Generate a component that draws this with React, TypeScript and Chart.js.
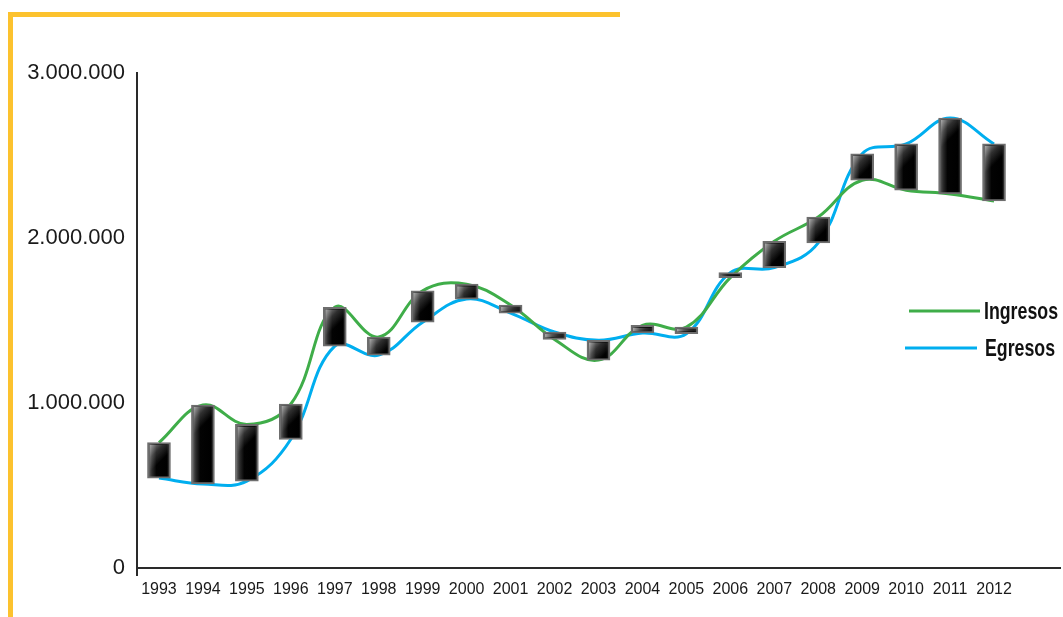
import React, { useEffect, useRef } from 'react';
import { Chart, registerables } from 'chart.js';

Chart.register(...registerables);

const years = ['1993', '1994', '1995', '1996', '1997', '1998', '1999', '2000', '2001', '2002', '2003', '2004', '2005', '2006', '2007', '2008', '2009', '2010', '2011', '2012'];
const ingresos = [760000, 988000, 870000, 994000, 1580000, 1400000, 1680000, 1720000, 1594000, 1385000, 1260000, 1470000, 1460000, 1760000, 1980000, 2127000, 2350000, 2290000, 2267000, 2224000];
const egresos = [545000, 509000, 527000, 780000, 1345000, 1290000, 1490000, 1630000, 1545000, 1430000, 1380000, 1424000, 1420000, 1790000, 1820000, 1970000, 2510000, 2570000, 2727000, 2570000];
const yTickValues = [0, 1000000, 2000000, 3000000];
const legendLabels = ['Ingresos', 'Egresos'];

const GREEN = '#3fad49';
const BLUE = '#00aeef';
const YELLOW = '#fcc22e';
const FONT = '"Liberation Sans", Arial, Helvetica, sans-serif';

const fmt = (v: number) => String(Math.round(v)).replace(/\B(?=(\d{3})+(?!\d))/g, '.');

const decorPlugin = {
  id: 'decor',
  afterDraw(chart: any) {
    const { ctx, chartArea } = chart;
    ctx.save();
    // extend axes
    ctx.strokeStyle = '#2a2a2a';
    ctx.lineWidth = 2;
    ctx.beginPath();
    ctx.moveTo(chartArea.right - 1, chartArea.bottom);
    ctx.lineTo(1061, chartArea.bottom);
    ctx.moveTo(chartArea.left, chartArea.bottom);
    ctx.lineTo(chartArea.left, chartArea.bottom + 8);
    ctx.stroke();

    // legend
    const items = [
      { label: legendLabels[0], color: GREEN, x0: 909, x1: 980, y: 311, tx: 984 },
      { label: legendLabels[1], color: BLUE, x0: 905, x1: 977, y: 348, tx: 985 },
    ];
    ctx.font = 'bold 24px "Liberation Sans", Arial, sans-serif';
    ctx.textBaseline = 'middle';
    ctx.textAlign = 'left';
    const sx = 74 / ctx.measureText(legendLabels[0]).width;
    items.forEach((it) => {
      ctx.strokeStyle = it.color;
      ctx.lineWidth = 3;
      ctx.beginPath();
      ctx.moveTo(it.x0, it.y);
      ctx.lineTo(it.x1, it.y);
      ctx.stroke();
      ctx.save();
      ctx.translate(it.tx, it.y + 1);
      ctx.scale(sx, 1);
      ctx.fillStyle = '#111';
      ctx.fillText(it.label, 0, 0);
      ctx.restore();
    });
    ctx.restore();
  },
  afterDatasetsDraw(chart: any) {
    const { ctx } = chart;
    const meta = chart.getDatasetMeta(0);
    ctx.save();
    meta.data.forEach((el: any) => {
      const w = el.width;
      const left = el.x - w / 2 + 2;
      const top = Math.min(el.y, el.base) + 2;
      const h = Math.abs(el.base - el.y) - 4;
      const iw = w - 4;
      if (h <= 0) return;
      ctx.save();
      ctx.beginPath();
      ctx.rect(left, top, iw, h);
      ctx.clip();
      const g = ctx.createLinearGradient(left, top, left + 14, top + 14);
      g.addColorStop(0, 'rgba(255,255,255,0.55)');
      g.addColorStop(0.5, 'rgba(255,255,255,0.18)');
      g.addColorStop(1, 'rgba(255,255,255,0)');
      ctx.fillStyle = g;
      ctx.fillRect(left, top, iw, h);
      ctx.restore();
    });
    ctx.restore();
  },
};

export default function App() {
  const ref = useRef<HTMLCanvasElement | null>(null);

  useEffect(() => {
    if (!ref.current) return;
    const bars = years.map((_, i) => [Math.min(ingresos[i], egresos[i]), Math.max(ingresos[i], egresos[i])]);
    const chart = new Chart(ref.current, {
      type: 'bar',
      data: {
        labels: years,
        datasets: [
          {
            type: 'bar',
            label: 'Diferencia',
            data: bars as any,
            order: 0,
            barThickness: 23,
            borderWidth: 2,
            borderColor: '#6e6e6e',
            borderSkipped: false,
            backgroundColor: (c: any) => {
              const chart = c.chart;
              const sx = chart.scales && chart.scales.x;
              if (c.type !== 'data' || !sx) return '#000';
              const x = sx.getPixelForValue(c.dataIndex);
              if (!isFinite(x)) return '#000';
              const g = chart.ctx.createLinearGradient(x - 11, 0, x + 11, 0);
              g.addColorStop(0, '#6a6a6a');
              g.addColorStop(0.18, '#2c2c2c');
              g.addColorStop(0.38, '#030303');
              g.addColorStop(0.85, '#000000');
              g.addColorStop(1, '#2a2a2a');
              return g;
            },
          } as any,
          {
            type: 'line',
            label: legendLabels[0],
            data: ingresos,
            order: 1,
            borderColor: GREEN,
            borderWidth: 3,
            pointRadius: 0,
            tension: 0.4,
            fill: false,
          } as any,
          {
            type: 'line',
            label: legendLabels[1],
            data: egresos,
            order: 2,
            borderColor: BLUE,
            borderWidth: 3,
            pointRadius: 0,
            tension: 0.4,
            fill: false,
          } as any,
        ],
      },
      options: {
        responsive: false,
        animation: false,
        devicePixelRatio: 1,
        layout: { padding: { top: 73, right: 47, left: 0, bottom: 0 } },
        plugins: { legend: { display: false }, tooltip: { enabled: false } },
        scales: {
          x: {
            type: 'category',
            offset: true,
            grid: { display: false, drawTicks: false },
            border: { display: true, color: '#2a2a2a', width: 2 },
            ticks: {
              autoSkip: false,
              maxRotation: 0,
              padding: 12,
              color: '#1a1a1a',
              font: { family: FONT, size: 16 },
            },
            afterFit: (s: any) => {
              s.height = 49;
            },
          },
          y: {
            min: 0,
            max: 3000000,
            grid: { display: false, drawTicks: false },
            border: { display: true, color: '#2a2a2a', width: 2 },
            afterBuildTicks: (s: any) => {
              s.ticks = yTickValues.map((v) => ({ value: v }));
            },
            ticks: {
              padding: 12,
              color: '#1a1a1a',
              font: { family: FONT, size: 22 },
              callback: (v: any) => fmt(Number(v)),
            },
            afterFit: (s: any) => {
              s.width = 137;
            },
          },
        },
      },
      plugins: [decorPlugin],
    } as any);
    return () => chart.destroy();
  }, []);

  return (
    <div style={{ position: 'absolute', left: 0, top: 0, width: 1063, height: 617, background: '#fff' }}>
      <div style={{ position: 'absolute', left: 8, top: 12, width: 612, height: 5, background: YELLOW }} />
      <div style={{ position: 'absolute', left: 8, top: 12, width: 5, height: 605, background: YELLOW }} />
      <canvas ref={ref} width={1063} height={617} style={{ position: 'absolute', left: 0, top: 0, display: 'block' }} />
    </div>
  );
}
